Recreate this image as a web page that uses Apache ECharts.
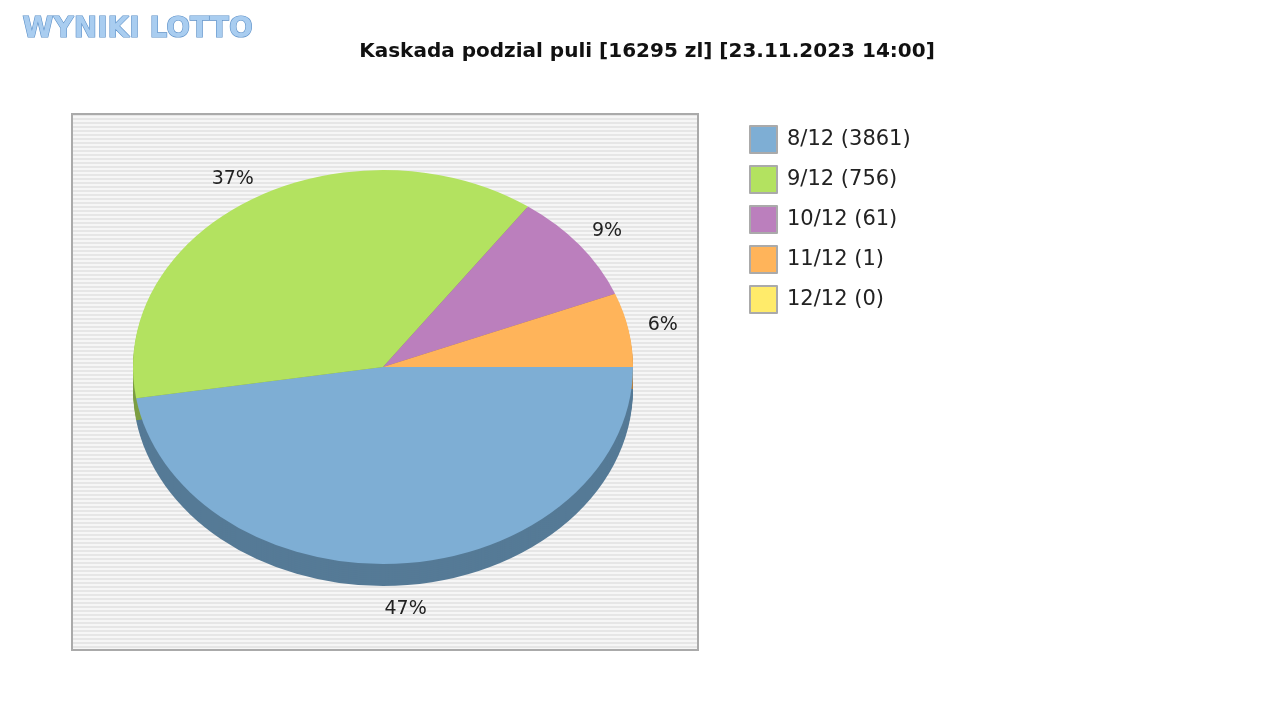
<!DOCTYPE html>
<html lang="pl">
<head>
<meta charset="UTF-8">
<script src="https://cdn.jsdelivr.net/npm/echarts@6/dist/echarts.min.js"></script>
<style>
  * {margin: 0; padding: 0;}
  html, body {width: 100%; height: 100%; background: #fff; overflow: hidden;}
  #chart {width: 1280px; height: 720px;}
</style>
</head>
<body>
<div id="chart"></div>
<script>
var names = ['8/12 (3861)', '9/12 (756)', '10/12 (61)', '11/12 (1)', '12/12 (0)']
var shares = [47, 37, 9, 6, 0]
var colors = ['#7eaed4', '#b3e260', '#bb7fbd', '#ffb45a', '#ffeb6a']
var shadeColors = ['#557a96', '#7c9e43', '#845a85', '#b37e3f', '#b3a54a']

var cx = 383, cy = 367, rx = 250, ry = 197, depth = 22
var total = shares.reduce(function (a, b) { return a + b }, 0)

function angles (i) {
  var before = 0
  for (var k = 0; k < i; k++) before += shares[k]
  var a0 = before / total * Math.PI * 2
  return [a0, a0 + shares[i] / total * Math.PI * 2]
}

function sector (i, dy, color) {
  var a = angles(i)
  return {
    type: 'sector',
    x: cx, y: cy + dy, scaleY: ry / rx,
    shape: {cx: 0, cy: 0, r: rx, startAngle: a[0], endAngle: a[1], clockwise: true},
    style: {fill: color}
  }
}

var stripe = document.createElement('canvas')
stripe.width = 4; stripe.height = 4
var sctx = stripe.getContext('2d')
sctx.fillStyle = '#f6f6f6'; sctx.fillRect(0, 0, 4, 4)
sctx.fillStyle = '#e6e6e6'; sctx.fillRect(0, 0, 4, 2)

var chart = echarts.init(document.getElementById('chart'))
chart.setOption({
  animation: false,
  color: colors,
  title: {
    text: 'Kaskada podzial puli [16295 zl] [23.11.2023 14:00]',
    left: 642, top: 37, textAlign: 'center',
    textStyle: {fontFamily: 'DejaVu Sans', fontSize: 20, fontWeight: 'bold', color: '#111'}
  },
  legend: {
    orient: 'vertical', left: 744, top: 120,
    itemWidth: 27, itemHeight: 27, itemGap: 11,
    icon: 'rect',
    itemStyle: {borderColor: '#aaa', borderWidth: 2},
    textStyle: {fontFamily: 'DejaVu Sans', fontSize: 21, lineHeight: 27, color: '#222', padding: [0, 0, 0, 5]},
    data: names
  },
  graphic: [
    {type: 'rect', left: 71, top: 113, z: -10, silent: true,
      shape: {width: 626, height: 536},
      style: {fill: {image: stripe, repeat: 'repeat'}, stroke: '#aaa', lineWidth: 2}},
    {type: 'text', left: 22, top: 15, z: 5,
      style: {text: 'WYNIKI LOTTO', fontFamily: 'DejaVu Sans', fontSize: 28, fontWeight: 'bold',
        fill: '#a9cdf0', stroke: '#5b8fc7', lineWidth: 1.2}}
  ],
  series: [
    {
      // invisible pie only feeds the legend
      type: 'pie', radius: 0, center: [cx, cy], silent: true,
      label: {show: false}, labelLine: {show: false},
      data: names.map(function (n, i) { return {name: n, value: shares[i]} })
    },
    {
      type: 'custom', coordinateSystem: 'none', z: 1, silent: true,
      data: shares,
      renderItem: function (params) {
        var i = params.dataIndex
        var kids = []
        for (var d = depth; d > 0; d -= 2) kids.push(sector(i, d, shadeColors[i]))
        return {type: 'group', children: kids}
      }
    },
    {
      type: 'custom', coordinateSystem: 'none', z: 2, silent: true,
      data: shares,
      renderItem: function (params) {
        var i = params.dataIndex
        var kids = [sector(i, 0, colors[i])]
        if (shares[i] > 0) {
          var a = angles(i)
          var m = (a[0] + a[1]) / 2
          var lx = cx + Math.cos(m) * rx * 1.14
          var ly = cy + Math.sin(m) * ry * 1.12 + (Math.sin(m) > 0 ? depth : 0)
          kids.push({
            type: 'text', x: lx, y: ly,
            style: {text: Math.round(shares[i] / total * 100) + '%', fontFamily: 'DejaVu Sans', fontSize: 19,
              fill: '#222', align: 'center', verticalAlign: 'middle'}
          })
        }
        return {type: 'group', children: kids}
      }
    }
  ]
})
</script>
</body>
</html>
